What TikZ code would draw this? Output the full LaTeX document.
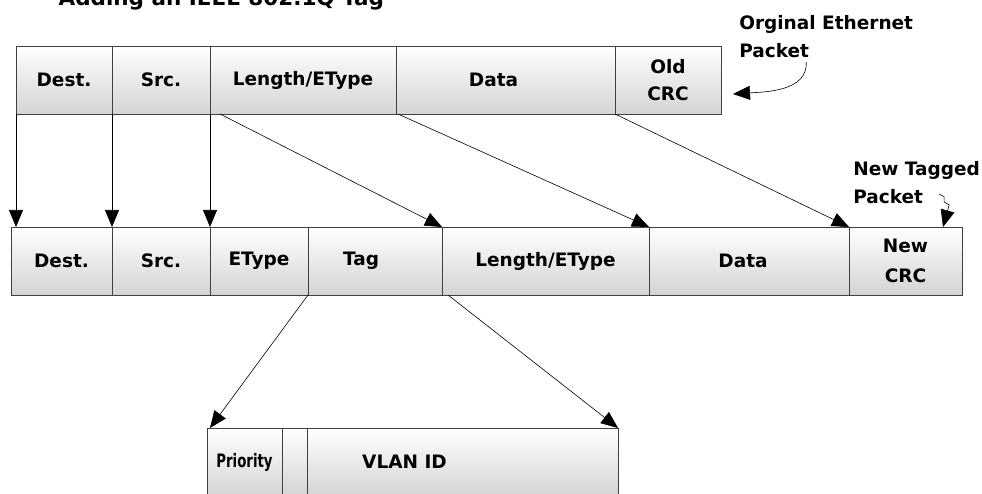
\documentclass[tikz,border=0pt]{standalone}
\usepackage{fontspec}
\setmainfont{DejaVu Sans}
\usepackage{graphicx}
\usetikzlibrary{positioning,arrows.meta}

\begin{document}
\begin{tikzpicture}[x=1pt,y=-1pt,->,>={Triangle[length=17pt,width=14pt]},
  line width=0.6pt,
  font=\bfseries\fontsize{18.5}{26}\selectfont,
  field/.style={rectangle,draw=black!75,line width=0.9pt,top color=white,
    bottom color=black!17,minimum height=68pt,inner sep=1pt,outer sep=0pt,
    align=center},
  note/.style={align=left,inner sep=0pt,anchor=north west}]

  \useasboundingbox (0,0) rectangle (982,494);

  \node[anchor=base west,font=\bfseries\fontsize{21.5}{25}\selectfont] (title) at (55,6) {Adding an IEEE 802.1Q Tag};

  % original packet
  \node[field,minimum width=96pt,anchor=north west] (dest1) at (16,46) {Dest.};
  \node[field,minimum width=98pt,right=0pt of dest1] (src1) {Src.};
  \node[field,minimum width=186pt,right=0pt of src1] (len1) {Length/EType};
  \node[field,minimum width=219pt,right=0pt of len1] (data1) {Data\hspace*{24pt}};
  \node[field,minimum width=106pt,right=0pt of data1] (crc1) {Old\\[1pt]CRC};

  % tagged packet
  \node[field,minimum width=101pt,anchor=north west] (dest2) at (11,227) {Dest.};
  \node[field,minimum width=98pt,right=0pt of dest2] (src2) {Src.};
  \node[field,minimum width=98pt,right=0pt of src2] (etype2) {EType};
  \node[field,minimum width=134pt,right=0pt of etype2] (tag2) {Tag\hspace*{28pt}};
  \node[field,minimum width=207pt,right=0pt of tag2] (len2) {Length/EType};
  \node[field,minimum width=200pt,right=0pt of len2] (data2) {Data\hspace*{12pt}};
  \node[field,minimum width=113pt,right=0pt of data2] (crc2) {New\\[4pt]CRC};

  % tag fields
  \node[field,minimum width=75pt,anchor=north west] (prio3) at (207,428) {\scalebox{0.72}[1]{Priority}};
  \node[field,minimum width=25pt,right=0pt of prio3] (cfi3) {};
  \node[field,minimum width=311pt,right=0pt of cfi3,
    label={[xshift=-58pt]center:VLAN ID}] (vid3) {};

  \path
  (dest1.south west) edge (dest1.south west |- dest2.north)
  (src1.south west) edge (src2.north west)
  (len1.south west) edge (etype2.north west)
  ([xshift=10pt]len1.south west) edge (len2.north west)
  ([xshift=2pt]data1.south west) edge (data2.north west)
  (crc1.south west) edge (crc2.north west)
  (tag2.south west) edge ([xshift=3pt]prio3.north west)
  ([xshift=6pt]tag2.south east) edge (vid3.north east);

  % notes
  \node[note] (orig) at (739,15) {Orginal Ethernet\\[2pt]Packet};
  \node[note] (newtag) at (853,161) {New Tagged\\[2pt]Packet};
  \coordinate (oldtip) at (733,94);

  \draw ([xshift=-20pt,yshift=-4pt]orig.south) .. controls +(2,30) and +(30,-2) .. (oldtip);
  \draw ([xshift=-41pt,yshift=10pt]newtag.south east) -- ++(5,3) -- ++(0,5) -- ++(5,3)
    -- ([xshift=-19pt]crc2.north east);

\end{tikzpicture}
\end{document}
